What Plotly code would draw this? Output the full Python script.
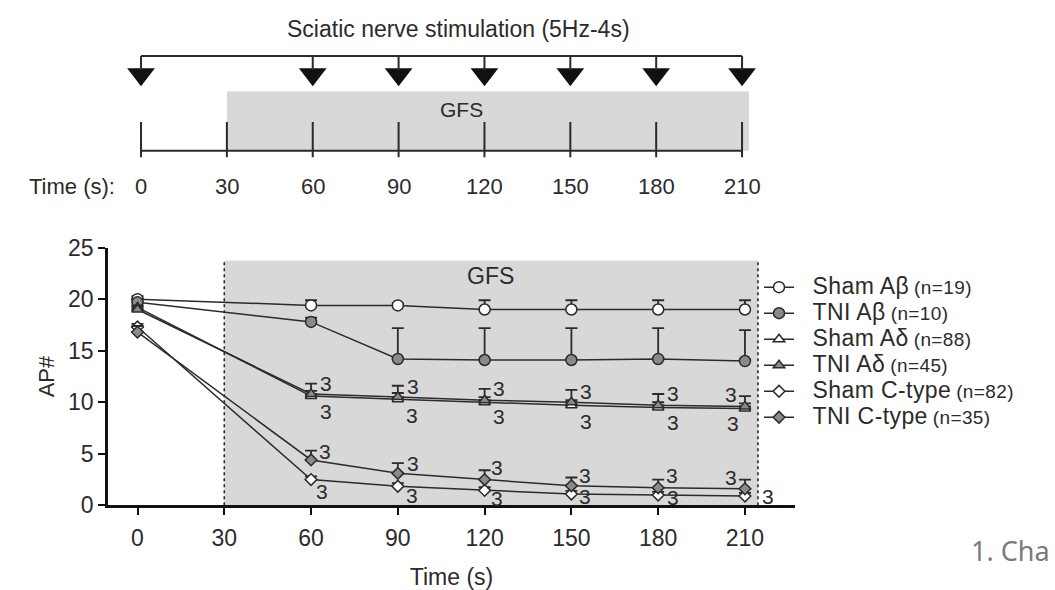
import plotly.graph_objects as go

# ---- data -------------------------------------------------------------
time_s = [0, 60, 90, 120, 150, 180, 210]
timeline_ticks = [0, 30, 60, 90, 120, 150, 180, 210]
stim_times = [0, 60, 90, 120, 150, 180, 210]
y_ticks = [0, 5, 10, 15, 20, 25]

sham_ab = [20.0, 19.4, 19.4, 19.0, 19.0, 19.0, 19.0]
sham_ab_err = [0.3, 0.5, 0.2, 0.9, 0.9, 0.9, 0.9]
tni_ab = [19.7, 17.8, 14.2, 14.1, 14.1, 14.2, 14.0]
tni_ab_err = [0.3, 0.4, 3.0, 3.1, 3.1, 3.0, 3.0]
sham_ad = [19.2, 10.6, 10.3, 10.0, 9.7, 9.5, 9.4]
sham_ad_err = [0.2, 0.5, 0.6, 0.5, 0.5, 0.5, 0.5]
tni_ad = [19.0, 10.8, 10.5, 10.2, 10.0, 9.7, 9.6]
tni_ad_err = [0.3, 1.0, 1.1, 1.1, 1.2, 1.1, 1.0]
sham_c = [17.3, 2.5, 1.85, 1.45, 1.1, 1.0, 0.9]
sham_c_err = [0.3, 0.3, 0.3, 0.3, 0.3, 0.3, 0.3]
tni_c = [16.8, 4.4, 3.1, 2.5, 1.9, 1.7, 1.6]
tni_c_err = [0.6, 0.9, 1.0, 0.9, 0.8, 0.8, 0.9]

group_labels = ["Sham A\u03b2", "TNI A\u03b2", "Sham A\u03b4", "TNI A\u03b4",
                "Sham C-type", "TNI C-type"]
group_n = [19, 10, 88, 45, 82, 35]
sig_label = "3"

gfs_start, gfs_end = 30, 214.5          # stimulation window on the main axis
gfs_top = 23.75

# ---- styling ----------------------------------------------------------
FONT = "Liberation Sans, Arial, sans-serif"
INK = "#2b2b2b"
GREY_FILL = "#d9d8d8"
MARKER_GREY = "#8a8a8a"
W, H = 1055, 590

fig = go.Figure()

styles = [
    dict(symbol="circle", color="white", size=11),
    dict(symbol="circle", color=MARKER_GREY, size=11),
    dict(symbol="triangle-up", color="white", size=10),
    dict(symbol="triangle-up", color=MARKER_GREY, size=10),
    dict(symbol="diamond", color="white", size=9),
    dict(symbol="diamond", color=MARKER_GREY, size=9),
]
values = [sham_ab, tni_ab, sham_ad, tni_ad, sham_c, tni_c]
errors = [sham_ab_err, tni_ab_err, sham_ad_err, tni_ad_err, sham_c_err, tni_c_err]


def legend_name(label, n):
    return ("<span style='font-size:23px;letter-spacing:0.4px'>&nbsp;&nbsp;"
            f"{label}</span> <span style='font-size:19px;letter-spacing:0.4px'>"
            f"(n={n})</span>")


for label, n, st, ys, es in zip(group_labels, group_n, styles, values, errors):
    fig.add_trace(go.Scatter(
        x=time_s, y=ys, name=legend_name(label, n), mode="lines+markers",
        line=dict(color=INK, width=1.5),
        marker=dict(symbol=st["symbol"], color=st["color"], size=st["size"],
                    line=dict(color=INK, width=1.5)),
        error_y=dict(type="data", symmetric=False, array=es,
                     arrayminus=[0] * len(es), color=INK, thickness=1.8, width=6),
        cliponaxis=False,
        xaxis="x", yaxis="y",
    ))


# significance marks, anchored to the series they annotate
def add_marks(ys, xshifts, yshifts):
    for t, v, dx, dy in zip(time_s[1:], ys[1:], xshifts, yshifts):
        fig.add_annotation(x=t, y=v, xref="x", yref="y", text=sig_label,
                           showarrow=False, xshift=dx, yshift=dy,
                           font=dict(family=FONT, size=21, color=INK))


add_marks(tni_ad, [15, 15, 14, 15, 15, -14], [11, 11, 12, 11, 12, 12])
add_marks(sham_ad, [15, 14, 14, 15, 15, -12], [-15, -16, -14, -16, -15, -15])
add_marks(tni_c, [14, 15, 12, 14, 14, -14], [8, 10, 12, 10, 12, 11])
add_marks(sham_c, [11, 14, 12, 14, 15, 23], [-12, -9, -8, -3, -2, 0])

# shaded GFS window with dotted borders
fig.add_shape(type="rect", xref="x", yref="y", x0=gfs_start, x1=gfs_end,
              y0=0, y1=gfs_top, fillcolor=GREY_FILL, line_width=0, layer="below")
for xv in (gfs_start, gfs_end):
    fig.add_shape(type="line", xref="x", yref="y", x0=xv, x1=xv, y0=0, y1=gfs_top,
                  line=dict(color=INK, width=1.6, dash="dot"), layer="below")
fig.add_annotation(x=122, y=22.3, xref="x", yref="y", text="GFS", showarrow=False,
                   font=dict(family=FONT, size=23, color=INK))

# ---- timeline diagram (upper panel) -------------------------------------
TITLE_Y, TOP_LINE_Y, ARROW_Y, RECT_TOP, BAR_Y = 17, 45, 64, 82, 144
TICK_TOP, TICK_BOT, LABEL_Y = 114, 151, 181

fig.add_shape(type="rect", xref="x2", yref="y2", x0=timeline_ticks[1], x1=212.4,
              y0=RECT_TOP, y1=BAR_Y, fillcolor=GREY_FILL, line_width=0, layer="below")
fig.add_shape(type="line", xref="x2", yref="y2", x0=stim_times[0], x1=stim_times[-1],
              y0=TOP_LINE_Y, y1=TOP_LINE_Y, line=dict(color=INK, width=2))
for t in stim_times:
    fig.add_shape(type="line", xref="x2", yref="y2", x0=t, x1=t,
                  y0=TOP_LINE_Y, y1=ARROW_Y - 4, line=dict(color=INK, width=2))
fig.add_trace(go.Scatter(
    x=stim_times, y=[ARROW_Y] * len(stim_times), mode="markers",
    marker=dict(symbol="triangle-down", size=24, color="#111111", line_width=0),
    showlegend=False, hoverinfo="skip", cliponaxis=False, xaxis="x2", yaxis="y2"))

fig.add_shape(type="line", xref="x2", yref="y2", x0=timeline_ticks[0],
              x1=timeline_ticks[-1], y0=BAR_Y, y1=BAR_Y, line=dict(color=INK, width=2))
for t in timeline_ticks:
    fig.add_shape(type="line", xref="x2", yref="y2", x0=t, x1=t,
                  y0=TICK_TOP, y1=TICK_BOT, line=dict(color=INK, width=2))
    fig.add_annotation(x=t, y=LABEL_Y, xref="x2", yref="y2", text=str(t),
                       showarrow=False, font=dict(family=FONT, size=22, color=INK))
fig.add_annotation(x=-8.5, y=LABEL_Y, xref="x2", yref="y2", text="Time (s):",
                   xanchor="right", showarrow=False,
                   font=dict(family=FONT, size=22, color=INK))
fig.add_annotation(x=112, y=101, xref="x2", yref="y2", text="GFS", showarrow=False,
                   font=dict(family=FONT, size=21, color=INK))
fig.add_annotation(x=111, y=TITLE_Y, xref="x2", yref="y2",
                   text="Sciatic nerve stimulation (5Hz-4s)", showarrow=False,
                   font=dict(family=FONT, size=23, color=INK))

# footer fragment at the lower right
fig.add_annotation(x=1052 / W, y=1 - 562 / H, xref="paper", yref="paper",
                   text="1. Cha", xanchor="right", yanchor="middle", showarrow=False,
                   font=dict(family="Noto Sans, Open Sans, sans-serif", size=27,
                             color="#7a7a7a"))

axis_common = dict(showgrid=False, zeroline=False, showline=True, linewidth=2.5,
                   linecolor="#111111", ticks="outside", ticklen=7, tickwidth=2,
                   tickcolor="#111111",
                   tickfont=dict(family=FONT, size=23, color=INK))

fig.update_layout(
    width=W, height=H,
    margin=dict(l=0, r=0, t=0, b=0),
    paper_bgcolor="white", plot_bgcolor="rgba(0,0,0,0)",
    font=dict(family=FONT, color=INK),
    xaxis=dict(domain=[108 / W, 795 / W], range=[-10.2, 227.3],
               tickvals=timeline_ticks, anchor="y", ticklabelstandoff=3,
               title=dict(text="Time (s)", font=dict(family=FONT, size=23, color=INK),
                          standoff=22),
               **axis_common),
    yaxis=dict(domain=[1 - 515 / H, 1 - 245.5 / H], range=[0, 25], tickvals=y_ticks,
               anchor="x",
               title=dict(text="AP#", font=dict(family=FONT, size=22, color=INK),
                          standoff=8),
               **axis_common),
    xaxis2=dict(domain=[112.4 / W, 790.7 / W], range=[-10, 227], visible=False,
                anchor="y2"),
    yaxis2=dict(domain=[1 - 200 / H, 1], range=[200, 0], visible=False, anchor="x2"),
    legend=dict(x=759 / W, y=1 - 268 / H, xanchor="left", yanchor="top",
                font=dict(family=FONT, size=17.7, color=INK), itemwidth=30,
                tracegroupgap=0, bgcolor="rgba(0,0,0,0)"),
    showlegend=True,
)

fig.write_html("out.html")
